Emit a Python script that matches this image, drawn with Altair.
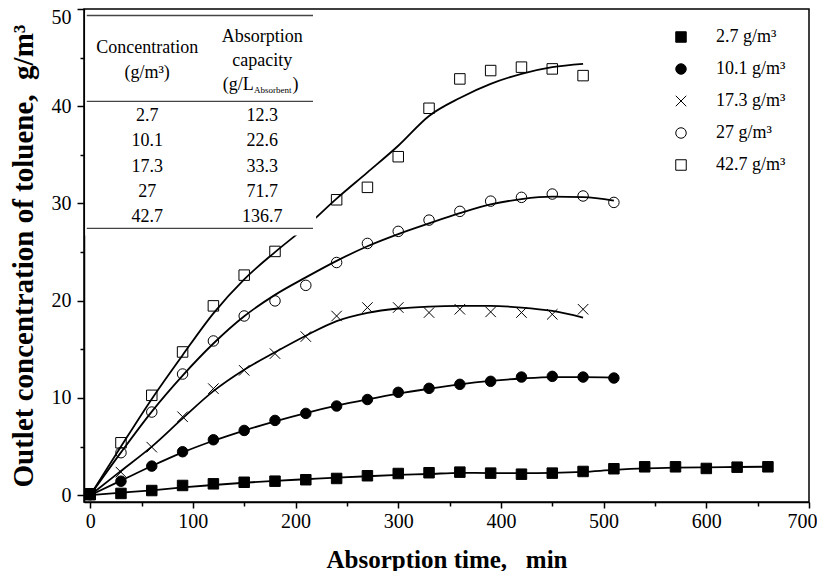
import altair as alt
import pandas as pd

FONT = "Liberation Serif"

series_names = ["2.7 g/m³", "10.1 g/m³", "17.3 g/m³", "27 g/m³", "42.7 g/m³"]

# ---- measured points ----
time_2_7 = list(range(0, 661, 30))
conc_2_7 = [0.05, 0.18, 0.48, 1.0, 1.17, 1.33, 1.44, 1.59, 1.72, 2.0, 2.23, 2.31,
            2.37, 2.27, 2.16, 2.27, 2.44, 2.72, 2.92, 2.92, 2.75, 2.88, 2.92]
fit_2_7 = [0.0, 0.25, 0.5, 0.8, 1.05, 1.28, 1.48, 1.64, 1.8, 1.95, 2.08, 2.18,
           2.3, 2.27, 2.27, 2.3, 2.4, 2.6, 2.75, 2.83, 2.87, 2.9, 2.93]

time_10_1 = list(range(0, 511, 30))
conc_10_1 = [0.05, 1.44, 2.99, 4.47, 5.7, 6.66, 7.69, 8.41, 9.17, 9.84, 10.58, 10.99,
             11.4, 11.71, 12.15, 12.22, 12.15, 12.05]
fit_10_1 = [0.0, 1.5, 3.0, 4.4, 5.6, 6.65, 7.6, 8.45, 9.2, 9.85, 10.45, 10.95,
            11.4, 11.75, 12.0, 12.15, 12.15, 12.1]

time_17_3 = list(range(0, 481, 30))
conc_17_3 = [0.05, 2.37, 4.94, 8.07, 10.96, 12.84, 14.56, 16.31, 18.43, 19.3, 19.3,
             18.78, 19.12, 18.85, 18.78, 18.6, 19.12]
fit_17_3 = [0.0, 2.5, 5.0, 7.9, 10.7, 12.9, 14.7, 16.4, 17.9, 18.75, 19.2, 19.4,
            19.47, 19.47, 19.3, 18.95, 18.27]

time_27 = list(range(0, 511, 30))
conc_27 = [0.1, 4.37, 8.55, 12.46, 15.86, 18.43, 19.98, 21.58, 23.93, 25.89, 27.13,
           28.29, 29.19, 30.24, 30.63, 30.97, 30.77, 30.11]
fit_27 = [0.0, 4.4, 8.6, 12.3, 15.6, 18.4, 20.6, 22.4, 24.1, 25.6, 26.85, 27.95,
          29.0, 29.9, 30.45, 30.7, 30.66, 30.3]

time_42_7 = [0, 30, 60, 90, 120, 150, 180, 240, 270, 300, 330, 360, 390, 420, 450, 480]
conc_42_7 = [0.15, 5.39, 10.27, 14.73, 19.47, 22.63, 25.07, 30.38, 31.66, 34.81,
             39.79, 42.81, 43.67, 44.02, 43.84, 43.15]
fit_time_42_7 = list(range(0, 481, 30))
fit_42_7 = [0.0, 5.0, 9.9, 14.4, 18.7, 22.2, 25.0, 27.6, 30.5, 33.2, 35.94, 39.0,
            40.85, 42.3, 43.33, 44.02, 44.36]

# ---- inset table ----
table_conc = ["2.7", "10.1", "17.3", "27", "42.7"]
table_cap = ["12.3", "22.6", "33.3", "71.7", "136.7"]

# ---- build frames ----
pts = []
fits = []
for name, tt, vv in zip(series_names,
                        [time_2_7, time_10_1, time_17_3, time_27, time_42_7],
                        [conc_2_7, conc_10_1, conc_17_3, conc_27, conc_42_7]):
    for a, b in zip(tt, vv):
        pts.append({"series": name, "t": a, "v": b})
for name, tt, vv in zip(series_names,
                        [time_2_7, time_10_1, time_17_3, time_27, fit_time_42_7],
                        [fit_2_7, fit_10_1, fit_17_3, fit_27, fit_42_7]):
    for a, b in zip(tt, vv):
        fits.append({"series": name, "t": a, "v": b})
pts_df = pd.DataFrame(pts)
fit_df = pd.DataFrame(fits)

x_scale = alt.Scale(domain=[-6, 700], nice=False, zero=False)
y_scale = alt.Scale(domain=[-0.7, 50], nice=False, zero=False)

x_axis = alt.Axis(
    values=list(range(0, 701, 50)),
    labelExpr="datum.value % 100 === 0 ? datum.label : ''",
    tickSize={"condition": {"test": "datum.value % 100 !== 0", "value": 4}, "value": 6},
    labelOffset={"condition": {"test": "datum.value === 700", "value": -7}, "value": 0},
    labelPadding=3, titlePadding=16, labelFlush=False, titleFontSize=25,
)
y_axis = alt.Axis(
    values=list(range(0, 51, 5)),
    labelExpr="datum.value % 10 === 0 ? datum.label : ''",
    tickSize={"condition": {"test": "datum.value % 10 !== 0", "value": 4}, "value": 7},
    labelOffset={"condition": {"test": "datum.value === 50", "value": 8}, "value": 0},
    labelPadding=6, titlePadding=13, labelFlush=False, titleFontSize=29,
)

x_enc = alt.X("t:Q", scale=x_scale, axis=x_axis, title="Absorption time,\u00a0\u00a0\u00a0min")
y_enc = alt.Y("v:Q", scale=y_scale, axis=y_axis,
              title="Outlet concentration of toluene,\u00a0\u00a0g/m³")

cross_path = "M-1,-1L1,1M-1,1L1,-1"
leg = alt.Legend(
    title=None, orient="none", legendX=588, legendY=19,
    labelFont=FONT, labelFontSize=18, labelColor="black", labelOffset=26,
    rowPadding=14, symbolSize=110, symbolStrokeWidth=1,
    symbolOpacity=1, padding=0,
)
shape_scale = alt.Scale(domain=series_names,
                        range=["square", "circle", cross_path, "circle", "square"])
fill_scale = alt.Scale(domain=series_names,
                       range=["black", "black", "transparent", "transparent", "transparent"])
stroke_scale = alt.Scale(domain=series_names, range=["black"] * 5)

lines = alt.Chart(fit_df).mark_line(color="black", strokeWidth=1.8, interpolate="monotone").encode(
    x=x_enc, y=y_enc, detail="series:N"
)

points = alt.Chart(pts_df).mark_point(size=110, opacity=1, strokeWidth=1).encode(
    x=x_enc, y=y_enc,
    shape=alt.Shape("series:N", scale=shape_scale, legend=leg),
    fill=alt.Fill("series:N", scale=fill_scale, legend=leg),
    stroke=alt.Stroke("series:N", scale=stroke_scale, legend=leg),
)

bg = alt.Chart(pd.DataFrame({"t": [-4.8], "t2": [220], "v": [26.7], "v2": [49.85]})).mark_rect(
    fill="white"
).encode(x=x_enc, x2="t2", y=y_enc, y2="v2")

rules = alt.Chart(pd.DataFrame({"t": [-3.3] * 3, "t2": [217] * 3, "v": [49.33, 40.5, 27.44]})).mark_rule(
    color="#444444", strokeWidth=1.3
).encode(x=x_enc, x2="t2", y=y_enc)

col1_t, col2_t = 55.5, 167.5
row_v = [39.0 - 2.61 * i for i in range(len(table_conc))]
cells = []
for c, cap, rv in zip(table_conc, table_cap, row_v):
    cells.append({"t": col1_t, "v": rv, "txt": c})
    cells.append({"t": col2_t, "v": rv, "txt": cap})
cells += [
    {"t": col1_t, "v": 46.0, "txt": "Concentration"},
    {"t": col1_t, "v": 43.4, "txt": "(g/m³)"},
    {"t": col2_t, "v": 47.17, "txt": "Absorption"},
    {"t": col2_t, "v": 44.7, "txt": "capacity"},
]
cells_df = pd.DataFrame(cells)
table_text = alt.Chart(cells_df).mark_text(font=FONT, fontSize=18, color="black", baseline="middle",
                                            align="center").encode(x=x_enc, y=y_enc, text="txt:N")
unit_a = alt.Chart(pd.DataFrame({"t": [159.2], "v": [42.2], "txt": ["(g/L"]})).mark_text(
    font=FONT, fontSize=18, color="black", baseline="middle", align="right"
).encode(x=x_enc, y=y_enc, text="txt:N")
unit_b = alt.Chart(pd.DataFrame({"t": [159.5], "v": [42.2], "txt": ["Absorbent"]})).mark_text(
    font=FONT, fontSize=9, color="black", baseline="middle", align="left", dy=5
).encode(x=x_enc, y=y_enc, text="txt:N")
unit_c = alt.Chart(pd.DataFrame({"t": [197.0], "v": [42.2], "txt": [")"]})).mark_text(
    font=FONT, fontSize=18, color="black", baseline="middle", align="left"
).encode(x=x_enc, y=y_enc, text="txt:N")

chart = alt.layer(lines, points, bg, rules, table_text, unit_a, unit_b, unit_c).properties(
    width=725, height=493,
    autosize=alt.AutoSizeParams(type="none"),
    padding={"left": 76, "top": 1, "right": 8, "bottom": 69},
).configure_axis(
    domainColor="black", domainWidth=1.5, tickColor="black", tickWidth=1.5,
    labelFont=FONT, labelFontSize=20, labelColor="black",
    titleFont=FONT, titleFontWeight="bold", titleColor="black",
    grid=False, zindex=1,
).configure_view(stroke="black", strokeWidth=1.5)

chart.save("out.html", embed_options={"renderer": "svg", "actions": False})
